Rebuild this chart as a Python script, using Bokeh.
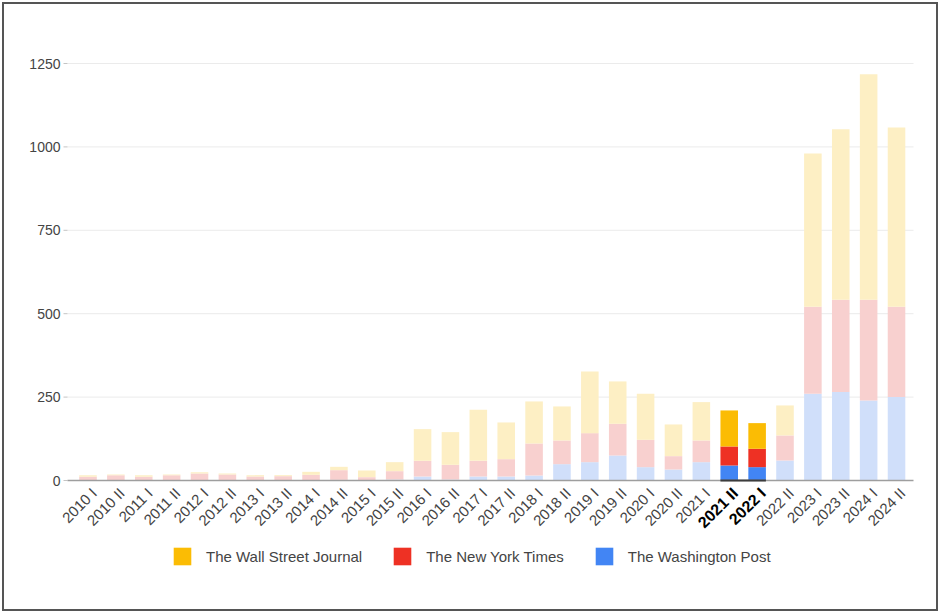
import math
from bokeh.plotting import figure
from bokeh.models import (ColumnDataSource, Range1d, Legend, LegendItem, InlineStyleSheet)
from bokeh.core.properties import value
from bokeh.embed import file_html
from bokeh.resources import INLINE

# ---- data ----
periods = ["2010 I", "2010 II", "2011 I", "2011 II", "2012 I", "2012 II", "2013 I", "2013 II",
           "2014 I", "2014 II", "2015 I", "2015 II", "2016 I", "2016 II", "2017 I", "2017 II",
           "2018 I", "2018 II", "2019 I", "2019 II", "2020 I", "2020 II", "2021 I", "2021 II",
           "2022 I", "2022 II", "2023 I", "2023 II", "2024 I", "2024 II"]
washington_post = [0, 0, 0, 0, 0, 0, 0, 0, 0, 2, 1, 3, 12, 3, 12, 12,
                   15, 49, 55, 75, 40, 33, 55, 45, 40, 60, 260, 265, 240, 250]
new_york_times = [11, 16, 11, 16, 21, 18, 12, 13, 17, 29, 9, 25, 47, 44, 47, 52,
                  96, 71, 87, 95, 82, 40, 65, 57, 55, 75, 261, 277, 302, 271]
wall_street_journal = [5, 2, 5, 2, 4, 3, 4, 3, 9, 10, 20, 27, 95, 98, 153, 110,
                       126, 102, 185, 127, 138, 95, 115, 108, 77, 90, 459, 511, 676, 537]
highlighted = ["2021 II", "2022 I"]
series_names = ["The Wall Street Journal", "The New York Times", "The Washington Post"]
y_ticks = [0, 250, 500, 750, 1000, 1250]
y_tick_labels = ["0", "250", "500", "750", "1000", "1250"]

FULL = {"wsj": "#FBBC04", "nyt": "#EE3124", "wp": "#4285F4"}
FADED = {"wsj": "#FDEFC4", "nyt": "#F8D0CF", "wp": "#D0DFFA"}
FONT = "Liberation Sans"

xs = list(range(len(periods)))
t_wp = list(washington_post)
t_nyt = [a + b for a, b in zip(t_wp, new_york_times)]
t_wsj = [a + b for a, b in zip(t_nyt, wall_street_journal)]

def colors(key):
    return [FULL[key] if p in highlighted else FADED[key] for p in periods]

src = ColumnDataSource(dict(x=xs, b_wp=[0] * len(xs), t_wp=t_wp, b_nyt=t_wp, t_nyt=t_nyt,
                            b_wsj=t_nyt, t_wsj=t_wsj,
                            c_wp=colors("wp"), c_nyt=colors("nyt"), c_wsj=colors("wsj")))

# ---- layout geometry (pixels) ----
W, H = 940, 613
PLOT_LEFT, PLOT_RIGHT = 67, 913          # chart area in pixels
Y0_PX, YTOP_PX = 480, 63                 # pixel rows of value 0 and of the top tick
FIRST_BAR_PX, BAR_STEP_PX = 87.5, 27.88   # centre of first bar, spacing
upp = (y_ticks[-1] - y_ticks[0]) / (Y0_PX - YTOP_PX)   # value units per pixel
x_start = -FIRST_BAR_PX / BAR_STEP_PX
x_end = x_start + W / BAR_STEP_PX
gx0 = x_start + PLOT_LEFT / BAR_STEP_PX
gx1 = x_start + PLOT_RIGHT / BAR_STEP_PX

p = figure(width=W, height=H, output_backend="svg", toolbar_location=None,
           x_range=Range1d(x_start, x_end),
           y_range=Range1d(-(H - Y0_PX) * upp, y_ticks[-1] + YTOP_PX * upp),
           x_axis_location=None, y_axis_location=None,
           min_border_left=0, min_border_right=0, min_border_top=0, min_border_bottom=0)
p.outline_line_color = None
p.xgrid.grid_line_color = None
p.ygrid.grid_line_color = None
p.stylesheets = [InlineStyleSheet(css=(
    ":host::after { content: ''; position: absolute; left: 2px; top: 2px; "
    "width: 932px; height: 605px; border: 2px solid #555555; "
    "pointer-events: none; z-index: 1000; }"))]

# horizontal gridlines, y tick marks and labels
grid_vals = y_ticks[1:]
p.segment(x0=[gx0] * len(grid_vals), x1=[gx1] * len(grid_vals), y0=grid_vals, y1=grid_vals,
          line_color="#ebebeb", line_width=1)
tick_len = 4 / BAR_STEP_PX
p.segment(x0=[gx0 - tick_len] * len(y_ticks), x1=[gx0] * len(y_ticks), y0=y_ticks, y1=y_ticks,
          line_color="#c4c4c4", line_width=1)
p.text(x=[gx0 - tick_len] * len(y_ticks), y=y_ticks, text=y_tick_labels, x_offset=-3,
       text_align="right", text_baseline="middle", text_font=value(FONT),
       text_font_size="14px", text_color="#444444")

# stacked bars
bw = 0.63
r_wp = p.vbar(x="x", bottom="b_wp", top="t_wp", width=bw, fill_color="c_wp", line_color=None, source=src)
r_nyt = p.vbar(x="x", bottom="b_nyt", top="t_nyt", width=bw, fill_color="c_nyt", line_color=None, source=src)
r_wsj = p.vbar(x="x", bottom="b_wsj", top="t_wsj", width=bw, fill_color="c_wsj", line_color=None, source=src)

# baseline (darker under the highlighted group)
p.segment(x0=[gx0], x1=[gx1], y0=[0], y1=[0], line_color="#9e9e9e", line_width=1.5)
hi_idx = [periods.index(h) for h in highlighted]
p.segment(x0=[min(hi_idx) - bw / 2], x1=[max(hi_idx) + bw / 2], y0=[0], y1=[0],
          line_color="#3c3c3c", line_width=2)

# category labels (rotated), highlighted ones bold
lab = ColumnDataSource(dict(
    x=xs, y=[0] * len(xs), text=periods,
    style=["bold" if p_ in highlighted else "normal" for p_ in periods],
    color=["#000000" if p_ in highlighted else "#444444" for p_ in periods],
    size=["16px" if p_ in highlighted else "15px" for p_ in periods]))
p.text(x="x", y="y", text="text", source=lab, angle=math.pi / 4, text_align="right",
       text_baseline="middle", x_offset=6, y_offset=10, text_font=value(FONT),
       text_font_size="size", text_font_style="style", text_color="color")

# legend
idx = hi_idx[0]
legend = Legend(items=[
    LegendItem(label=series_names[0], renderers=[r_wsj], index=idx),
    LegendItem(label=series_names[1], renderers=[r_nyt], index=idx),
    LegendItem(label=series_names[2], renderers=[r_wp], index=idx),
], orientation="horizontal", location=(171, H - 567))
legend.border_line_color = None
legend.background_fill_alpha = 0
legend.glyph_width = 22
legend.glyph_height = 22
legend.label_text_font = FONT
legend.label_text_font_size = "15px"
legend.label_text_color = "#444444"
legend.label_standoff = 13
legend.spacing = 29
legend.margin = 0
legend.padding = 0
p.add_layout(legend, "center")

open("out.html", "w").write(file_html(p, INLINE))
